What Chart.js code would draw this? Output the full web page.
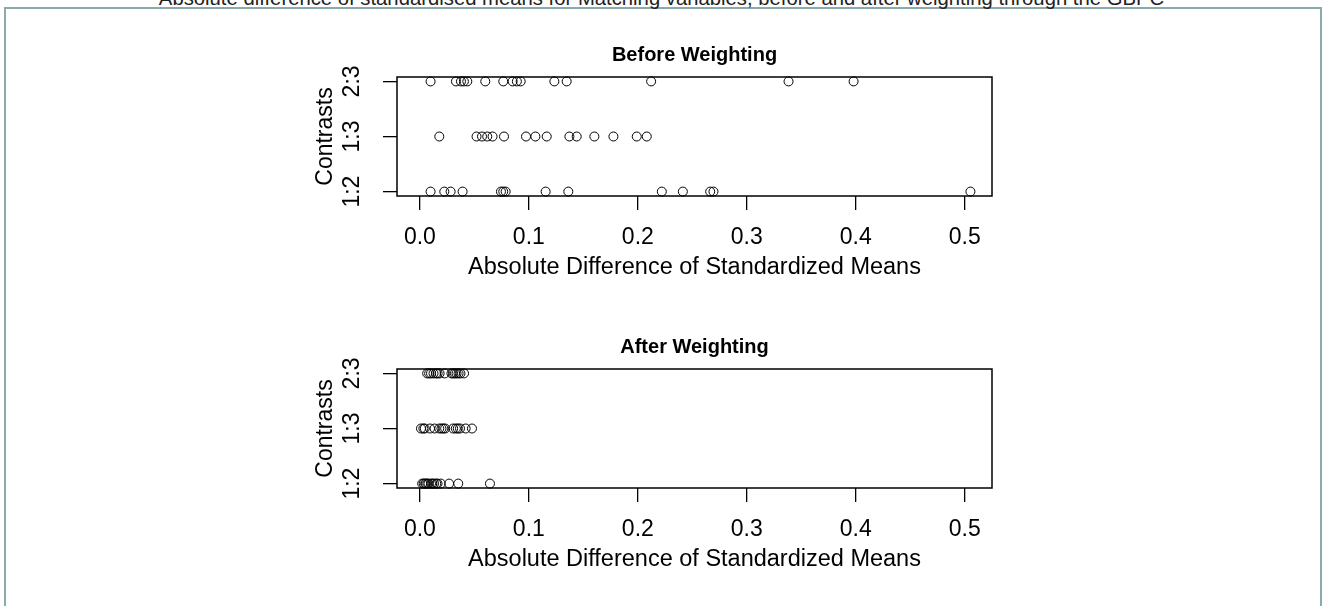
<!DOCTYPE html>
<html><head><meta charset="utf-8">
<script src="https://cdn.jsdelivr.net/npm/chart.js@4/dist/chart.umd.min.js"></script>
<style>
html,body{margin:0;padding:0;background:#fff;width:1323px;height:606px;overflow:hidden;position:relative;}
#frame{position:absolute;left:4px;top:7px;width:1314px;height:700px;border:2px solid #8aabab;}
#pageTitle{position:absolute;left:0;top:-9px;width:1323px;text-align:center;white-space:nowrap;font-family:'Liberation Sans',Arial,sans-serif;color:#222;font-size:17px;line-height:17px;}
.cw{position:absolute;left:0;width:1323px;}
canvas{display:block;}
</style></head><body>
<div id="frame"></div>
<div id="pageTitle"><span id="pt">Absolute difference of standardised means for Matching variables, before and after weighting through the GBPC</span></div>
<div class="cw" style="top:0;height:290px"><canvas id="c1" width="1323" height="290"></canvas></div>
<div class="cw" style="top:292px;height:314px"><canvas id="c2" width="1323" height="314"></canvas></div>
<script>
// ---- data ----
const categories = ['1:2', '1:3', '2:3'];
const xTickValues = [0.0, 0.1, 0.2, 0.3, 0.4, 0.5];
const beforeC12 = [0.0098, 0.0224, 0.0282, 0.0392, 0.0744, 0.0765, 0.0787, 0.1154, 0.1362, 0.2220, 0.2413, 0.2664, 0.2694, 0.5052];
const beforeC13 = [0.0178, 0.0520, 0.0570, 0.0618, 0.0667, 0.0772, 0.0974, 0.1060, 0.1164, 0.1372, 0.1439, 0.1601, 0.1776, 0.1990, 0.2082];
const beforeC23 = [0.0098, 0.0331, 0.0377, 0.0404, 0.0435, 0.0600, 0.0765, 0.0851, 0.0890, 0.0925, 0.1234, 0.1347, 0.2122, 0.3383, 0.3980];
const afterC12 = [0.0021, 0.0035, 0.0048, 0.0056, 0.0068, 0.0079, 0.0102, 0.0115, 0.0130, 0.0150, 0.0162, 0.0192, 0.0268, 0.0352, 0.0643];
const afterC13 = [0.0010, 0.0032, 0.0045, 0.0093, 0.0135, 0.0178, 0.0198, 0.0215, 0.0232, 0.0305, 0.0330, 0.0348, 0.0368, 0.0420, 0.0478];
const afterC23 = [0.0067, 0.0085, 0.0102, 0.0125, 0.0148, 0.0163, 0.0181, 0.0228, 0.0290, 0.0305, 0.0322, 0.0337, 0.0355, 0.0372, 0.0405];

const FF = "'Liberation Sans', Arial, sans-serif";

// fit page title width
(function(){
  const sp = document.getElementById('pt');
  const w = sp.getBoundingClientRect().width;
  const fs = 17 * 1006 / w;
  const el = document.getElementById('pageTitle');
  el.style.fontSize = fs + 'px';
  el.style.lineHeight = fs + 'px';
  el.style.top = (5 - 0.8465 * fs) + 'px';
})();

const boxPlugin = {
  id: 'rbox',
  afterDraw(c) {
    const a = c.chartArea, ctx = c.ctx;
    ctx.save();
    ctx.strokeStyle = '#000';
    ctx.lineWidth = 1.5;
    ctx.strokeRect(a.left, a.top, a.right - a.left, a.bottom - a.top);
    ctx.restore();
  }
};

function makeChart(id, titleText, rows, H) {
  const pts = [];
  rows.forEach((arr, i) => arr.forEach(v => pts.push({x: v, y: i + 1})));
  const titleSize = 20, titleLH = titleSize * 1.2;
  const P = 55 - titleLH / 2;
  const PB = 77 - P - titleLH;
  const gridOpts = {display: true, drawOnChartArea: false, drawTicks: true, tickLength: 14, color: '#000', lineWidth: 1.3};
  return new Chart(document.getElementById(id), {
    type: 'scatter',
    data: {datasets: [{
      data: pts,
      pointStyle: 'circle', pointRadius: 4.5, pointHoverRadius: 4.5,
      borderColor: '#000', borderWidth: 1, backgroundColor: 'rgba(0,0,0,0)',
      clip: false
    }]},
    options: {
      responsive: false, animation: false, devicePixelRatio: 1,
      layout: {padding: {left: 300, right: 331, top: P, bottom: H - 290}},
      plugins: {
        legend: {display: false}, tooltip: {enabled: false},
        title: {display: true, text: titleText, fullSize: false, color: '#000',
          font: {family: FF, size: titleSize, weight: 'bold'}, padding: {top: 0, bottom: PB}}
      },
      scales: {
        x: {
          type: 'linear', position: 'bottom', min: -0.021, max: 0.525,
          afterBuildTicks: s => { s.ticks = xTickValues.map(v => ({value: v})); },
          afterFit: s => { s.height = 94; },
          grid: gridOpts, border: {display: false},
          ticks: {padding: 14, autoSkip: false, minRotation: 0, maxRotation: 0, color: '#000',
            font: {family: FF, size: 23}, callback: v => Number(v).toFixed(1)},
          title: {display: true, text: 'Absolute Difference of Standardized Means', color: '#000',
            font: {family: FF, size: 23.5}, padding: {top: 0, bottom: 8}}
        },
        y: {
          type: 'linear', position: 'left', min: 0.92, max: 3.08,
          afterBuildTicks: s => { s.ticks = categories.map((c, i) => ({value: i + 1})); },
          afterFit: s => { s.width = 97; },
          grid: gridOpts, border: {display: false},
          ticks: {padding: 14, crossAlign: 'center', minRotation: 90, maxRotation: 90, color: '#000',
            font: {family: FF, size: 23}, callback: v => categories[Math.round(v) - 1]},
          title: {display: true, text: 'Contrasts', color: '#000',
            font: {family: FF, size: 23}, padding: {top: 12, bottom: 0}}
        }
      }
    },
    plugins: [boxPlugin]
  });
}

makeChart('c1', 'Before Weighting', [beforeC12, beforeC13, beforeC23], 290);
makeChart('c2', 'After Weighting', [afterC12, afterC13, afterC23], 314);
</script>
</body></html>
